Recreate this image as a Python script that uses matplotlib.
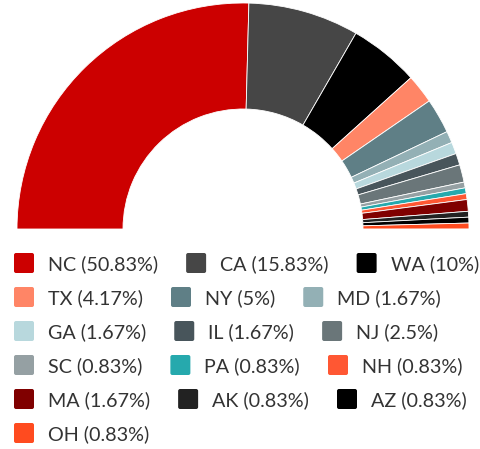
import matplotlib.pyplot as plt
from matplotlib.patches import FancyBboxPatch

plt.rcParams['font.family'] = ['Lato', 'DejaVu Sans']

states = ["NC", "CA", "WA", "TX", "NY", "MD", "GA", "IL", "NJ",
          "SC", "PA", "NH", "MA", "AK", "AZ", "OH"]
shares = [50.83, 15.83, 10, 4.17, 5, 1.67, 1.67, 1.67, 2.5,
          0.83, 0.83, 0.83, 1.67, 0.83, 0.83, 0.83]
share_labels = ["50.83%", "15.83%", "10%", "4.17%", "5%", "1.67%", "1.67%", "1.67%", "2.5%",
                "0.83%", "0.83%", "0.83%", "1.67%", "0.83%", "0.83%", "0.83%"]
colors = ["#CC0000", "#464646", "#000000", "#FF8566", "#5F7F86", "#93B0B5",
          "#B8D8DD", "#48555B", "#6A7679", "#95A0A3", "#26A9AD", "#FF5733",
          "#800000", "#222222", "#000000", "#FF4B1F"]

W, H = 481, 449
fig = plt.figure(figsize=(W / 100, H / 100), dpi=100)

# half donut
cx, cy, r = 243, 229, 226
ax = fig.add_axes([(cx - r) / W, (H - cy - r) / H, 2 * r / W, 2 * r / H])
ax.pie([s / 200 for s in shares], colors=colors, normalize=False,
       startangle=180, counterclock=False, radius=1,
       wedgeprops=dict(width=1 - 120 / 226, edgecolor="white", linewidth=0.6))
ax.set_xlim(-1, 1)
ax.set_ylim(-1, 1)
ax.axis("off")

# flow legend drawn in pixel coords, 3 items per row
lax = fig.add_axes([0, 0, 1, 1])
lax.set_xlim(0, W)
lax.set_ylim(H, 0)
lax.axis("off")
renderer = fig.canvas.get_renderer()

box, gap_txt, gap_item, row_h = 20, 14, 28, 34
for i, (st, lab, col) in enumerate(zip(states, share_labels, colors)):
    if i % 3 == 0:
        x = 14
        y = 263 + (i // 3) * row_h
    t = lax.text(x + box + gap_txt, y, f"{st} ({lab})", fontsize=14.2, color="#333333",
                 va="center_baseline", ha="left")
    tw = t.get_window_extent(renderer).width
    lax.add_patch(FancyBboxPatch((x, y - box / 2), box, box,
                                 boxstyle="round,pad=0,rounding_size=2",
                                 facecolor=col, edgecolor="none"))
    x += box + gap_txt + tw + gap_item

fig.savefig("out.png", dpi=100)
